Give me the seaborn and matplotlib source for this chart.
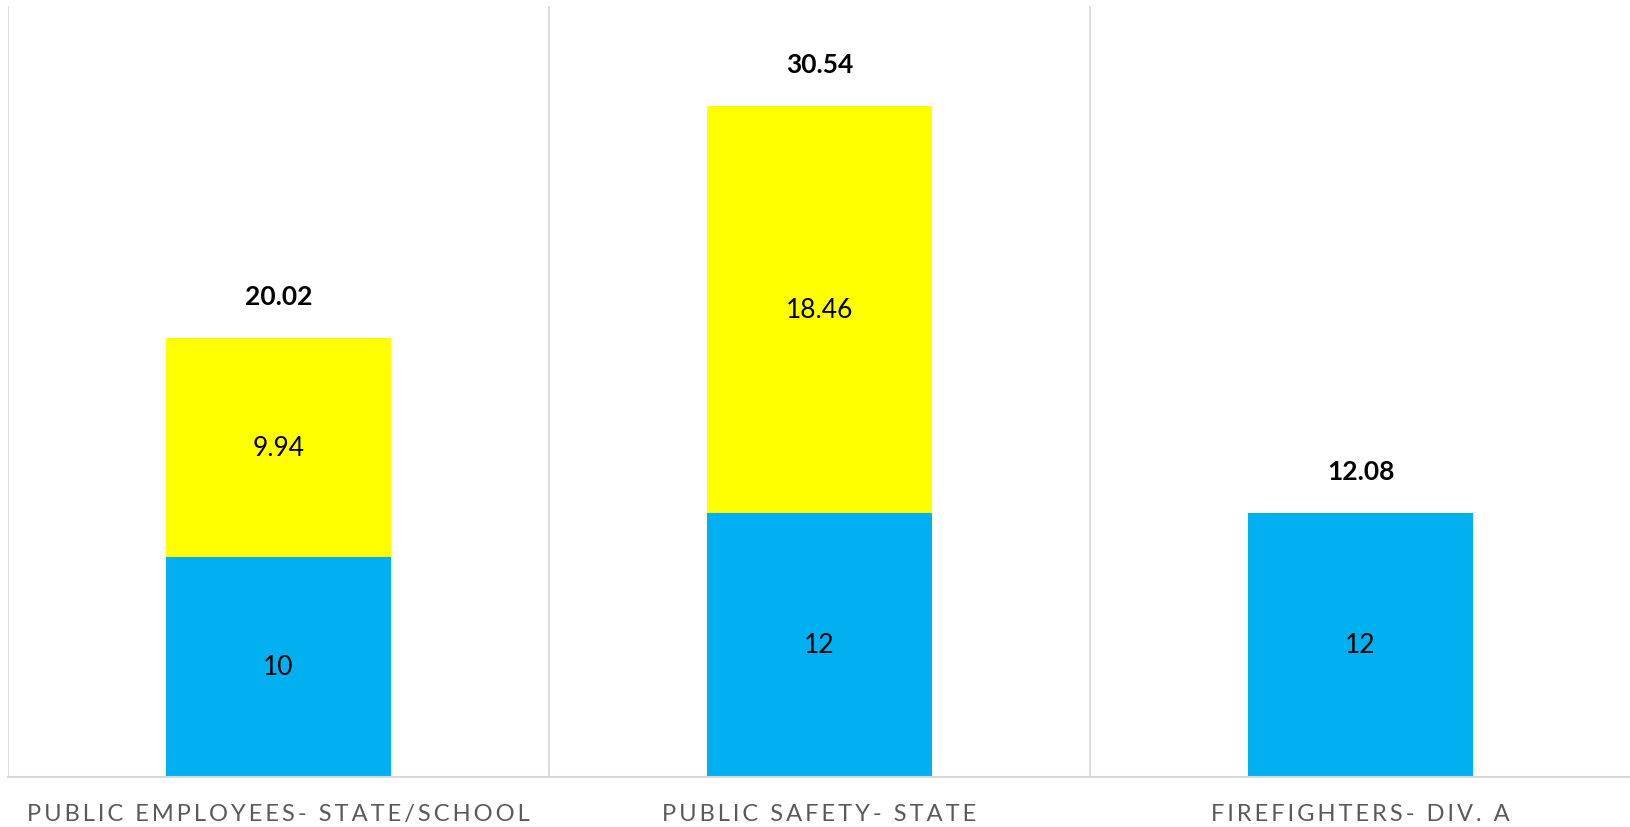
import matplotlib
matplotlib.use("Agg")
import matplotlib.pyplot as plt
import seaborn as sns
import pandas as pd

# Contribution rates by plan (percent of pay)
categories = ["PUBLIC EMPLOYEES- STATE/SCHOOL", "PUBLIC SAFETY- STATE", "FIREFIGHTERS- DIV. A"]
employee_rate = [10, 12, 12]
employer_rate = [9.94, 18.46, 0]
total_rate = [20.02, 30.54, 12.08]

BLUE = "#00B0F0"
YELLOW = "#FFFF00"
GRID = "#D9D9D9"
LABEL_GRAY = "#595959"

sns.set_theme(style="white")
plt.rcParams["font.family"] = ["Lato", "DejaVu Sans"]


def spaced(text, sep="\u2009"):
    return sep.join(text)


df = pd.DataFrame({
    "category": categories,
    "employee": employee_rate,
    "employer": employer_rate,
    "total": total_rate,
})
df["stack_top"] = df["employee"] + df["employer"]

fig = plt.figure(figsize=(16.31, 8.28), dpi=100)
ax = fig.add_axes([8 / 1631, 50 / 828, 1623 / 1631, 771 / 828])

bar_w = 0.415
# stacked bars: full stack in yellow first, employee share in blue over it
sns.barplot(data=df, x="category", y="stack_top", color=YELLOW, width=bar_w,
            saturation=1, ax=ax, linewidth=0)
sns.barplot(data=df, x="category", y="employee", color=BLUE, width=bar_w,
            saturation=1, ax=ax, linewidth=0)

ax.set_xlim(-0.5, 2.5)
ax.set_ylim(0, 35)

# segment labels, centred in each segment
for i, row in df.iterrows():
    ax.text(i, row["employee"] / 2, f"{row['employee']:g}", ha="center", va="center",
            fontsize=19, color="black")
    if row["employer"] > 0:
        ax.text(i, row["employee"] + row["employer"] / 2, f"{row['employer']:g}",
                ha="center", va="center", fontsize=19, color="black")
    ax.annotate(f"{row['total']:.2f}", xy=(i, row["total"]), xytext=(0, 29),
                textcoords="offset points", ha="center", va="center",
                fontsize=19, fontweight="bold", color="black")

# category separators
ax.set_xticks([-0.5, 0.5, 1.5, 2.5], minor=True)
ax.grid(True, which="minor", axis="x", color=GRID, linewidth=1.3)
ax.grid(False, which="major")
ax.tick_params(axis="x", which="both", length=0)
ax.set_xticks(range(len(categories)))
ax.set_xticklabels([spaced(c) for c in categories], fontsize=17, color=LABEL_GRAY)
ax.tick_params(axis="x", pad=19)
ax.set_yticks([])
ax.set_xlabel("")
ax.set_ylabel("")

for side in ["left", "right", "top"]:
    ax.spines[side].set_visible(False)
ax.spines["bottom"].set_color(GRID)
ax.spines["bottom"].set_linewidth(1.5)

fig.savefig("out.png", dpi=100, facecolor="white")
